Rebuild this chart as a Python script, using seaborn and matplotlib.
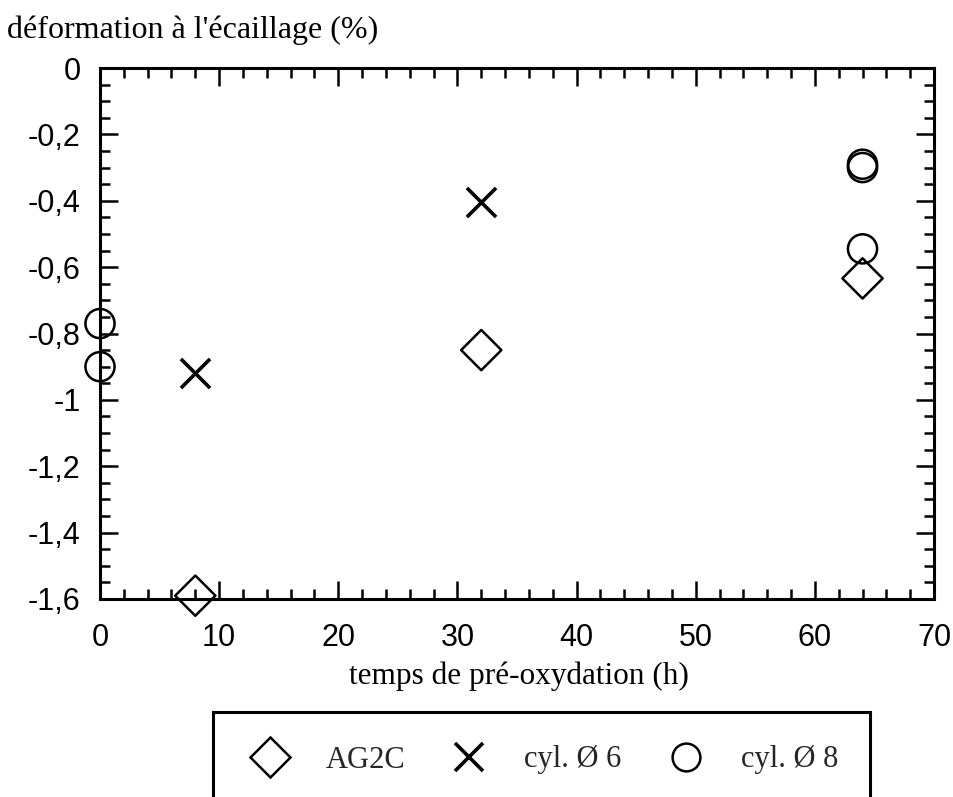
import matplotlib
matplotlib.use("Agg")
import matplotlib.pyplot as plt
from matplotlib.ticker import MultipleLocator, FuncFormatter
from matplotlib.patches import Rectangle
from matplotlib.lines import Line2D
import seaborn as sns
import pandas as pd

# ---- data ----
ag2c_x = [8, 32, 64]
ag2c_y = [-1.59, -0.85, -0.634]
cyl6_x = [8, 32]
cyl6_y = [-0.92, -0.404]
cyl8_x = [0, 0, 64, 64, 64]
cyl8_y = [-0.77, -0.90, -0.29, -0.30, -0.545]

series_names = ["AG2C", "cyl. Ø 6", "cyl. Ø 8"]
x_label = "temps de pré-oxydation (h)"
y_label = "déformation à l'écaillage (%)"

df_ag2c = pd.DataFrame({"t": ag2c_x, "d": ag2c_y})
df_cyl6 = pd.DataFrame({"t": cyl6_x, "d": cyl6_y})
df_cyl8 = pd.DataFrame({"t": cyl8_x, "d": cyl8_y})

sns.set_theme(style="white")
plt.rcParams["font.family"] = ["Liberation Sans", "DejaVu Sans"]

W, H = 954, 797
fig = plt.figure(figsize=(W / 100, H / 100), dpi=100)
ax = fig.add_axes([100 / W, 1 - 599 / H, (934 - 100) / W, (599 - 68) / H])
ax.set_facecolor("white")

sns.scatterplot(data=df_ag2c, x="t", y="d", ax=ax, marker="D", s=420,
                facecolor="none", edgecolor="black", linewidth=1.8,
                clip_on=False, zorder=5)
sns.scatterplot(data=df_cyl6, x="t", y="d", ax=ax, marker="x", s=440,
                color="black", linewidth=2.6, clip_on=False, zorder=5)
sns.scatterplot(data=df_cyl8, x="t", y="d", ax=ax, marker="o", s=440,
                facecolor="none", edgecolor="black", linewidth=1.8,
                clip_on=False, zorder=5)

ax.set_xlim(0, 70)
ax.set_ylim(-1.6, 0)
ax.xaxis.set_major_locator(MultipleLocator(10))
ax.xaxis.set_minor_locator(MultipleLocator(2))
ax.yaxis.set_major_locator(MultipleLocator(0.2))
ax.yaxis.set_minor_locator(MultipleLocator(0.05))


def fmt(v, pos):
    s = "%g" % round(v, 2)
    if s == "-0":
        s = "0"
    return s.replace(".", ",")


ax.xaxis.set_major_formatter(FuncFormatter(fmt))
ax.yaxis.set_major_formatter(FuncFormatter(fmt))

for sp in ax.spines.values():
    sp.set_visible(True)
    sp.set_color("black")
    sp.set_linewidth(2.2)

ax.tick_params(which="both", direction="in", top=True, right=True,
               bottom=True, left=True, color="black", width=1.8)
ax.tick_params(which="major", length=13, labelsize=22, labelcolor="black")
ax.tick_params(which="minor", length=7)
ax.tick_params(axis="y", which="major", pad=14)
ax.tick_params(axis="x", which="major", pad=17)

serif = ["Liberation Serif", "DejaVu Serif"]
ax.set_xlabel(x_label, family=serif, fontsize=22.5, color="black")
ax.xaxis.set_label_coords((519 - 100) / 834, -(676 - 599) / 531)
ax.xaxis.label.set_va("center")
ax.set_ylabel(y_label, family=serif, fontsize=23, color="black",
              rotation=0, ha="left", va="center")
ax.yaxis.set_label_coords((7 - 100) / 834, (599 - 30) / 531)

# legend box (extends beyond bottom edge)
fig.patches.append(Rectangle((213 / W, -0.05), (870 - 213) / W, 0.05 + 1 - 712 / H,
                             transform=fig.transFigure, fill=False,
                             edgecolor="black", linewidth=2.2))
handles = [
    Line2D([], [], ls="none", marker="D", ms=20, mfc="none", mec="black", mew=1.8),
    Line2D([], [], ls="none", marker="x", ms=20, color="black", mew=2.6),
    Line2D([], [], ls="none", marker="o", ms=20, mfc="none", mec="black", mew=1.8),
]
fig.legend(handles, series_names, loc="center", ncol=3,
           bbox_to_anchor=(545 / W, 1 - 760 / H), frameon=False,
           prop={"family": serif, "size": 22}, handlelength=1.2,
           handletextpad=1.2, columnspacing=1.5)

fig.savefig("out.png", dpi=100, facecolor="white")
